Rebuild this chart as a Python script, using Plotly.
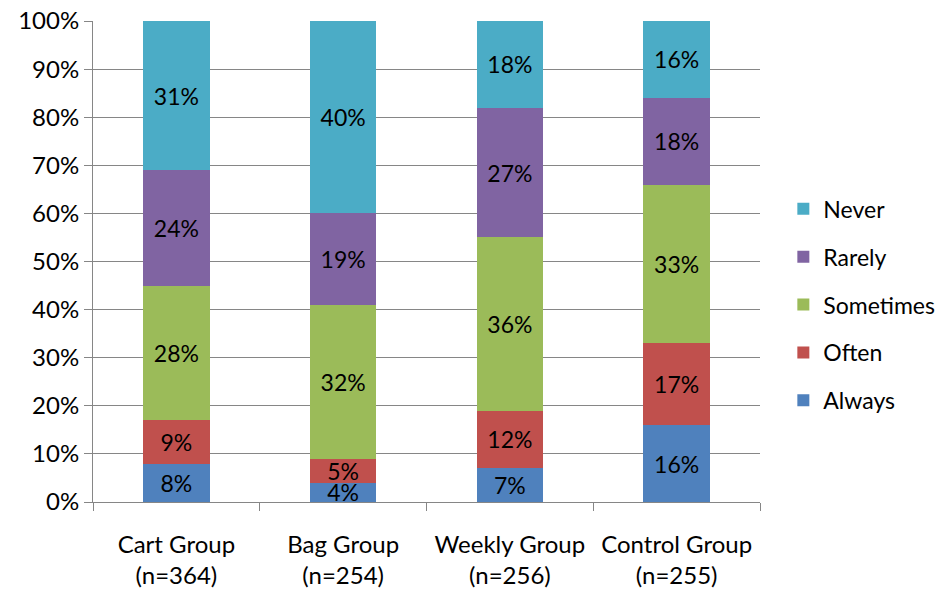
import plotly.graph_objects as go

groups = ["Cart Group<br>(n=364)", "Bag Group<br>(n=254)",
          "Weekly Group<br>(n=256)", "Control Group<br>(n=255)"]
always = [8, 4, 7, 16]
often = [9, 5, 12, 17]
sometimes = [28, 32, 36, 33]
rarely = [24, 19, 27, 18]
never = [31, 40, 18, 16]
y_ticks = [0, 10, 20, 30, 40, 50, 60, 70, 80, 90, 100]
y_labels = [f"{v}%" for v in y_ticks]

series = [
    ("Always", always, "#4F81BD"),
    ("Often", often, "#C0504D"),
    ("Sometimes", sometimes, "#9BBB59"),
    ("Rarely", rarely, "#8064A2"),
    ("Never", never, "#4BACC6"),
]

FONT = "Lato, Calibri, Carlito, sans-serif"
GRID = "#868686"
xpos = list(range(len(groups)))

fig = go.Figure()
for i, (name, vals, color) in enumerate(series):
    fig.add_trace(go.Bar(
        x=xpos, y=vals, name=name, legendgroup=name,
        legendrank=1000 - i,  # top segment listed first in the legend
        marker=dict(color=color, line=dict(width=0)),
        width=0.4,
        text=[f"{v}%" for v in vals],
        textposition="inside", insidetextanchor="middle",
        textangle=0,
        textfont=dict(family=FONT, size=23, color="black"),
        hoverinfo="skip",
    ))

fig.update_layout(
    barmode="stack",
    width=945, height=591,
    margin=dict(l=93, r=185, t=21, b=89, autoexpand=False),
    plot_bgcolor="white", paper_bgcolor="white",
    font=dict(family=FONT, size=23, color="black"),
    uniformtext=dict(mode="show", minsize=23),
    legend=dict(
        traceorder="grouped", tracegroupgap=15,
        x=1.035, xanchor="left", y=0.41, yanchor="middle",
        font=dict(family=FONT, size=23, color="black"),
        bgcolor="rgba(0,0,0,0)",
    ),
)
fig.update_xaxes(
    range=[-0.5, 3.5], tickvals=xpos, ticktext=groups,
    ticks="", showgrid=False, zeroline=False, automargin=False,
    showline=True, linecolor=GRID, linewidth=1,
    ticklabelstandoff=21,
    minor=dict(tick0=-0.5, dtick=1, ticks="outside", ticklen=8,
               tickcolor=GRID, tickwidth=1, showgrid=False),
    tickfont=dict(family=FONT, size=24, color="black"),
)
fig.update_yaxes(
    range=[0, 100], tickvals=y_ticks, ticktext=y_labels,
    ticks="outside", ticklen=8, tickcolor=GRID, tickwidth=1,
    showgrid=True, gridcolor=GRID, gridwidth=1, zeroline=False,
    automargin=False,
    showline=True, linecolor=GRID, linewidth=1,
    tickfont=dict(family=FONT, size=24, color="black"),
)

fig.write_html("out.html")
